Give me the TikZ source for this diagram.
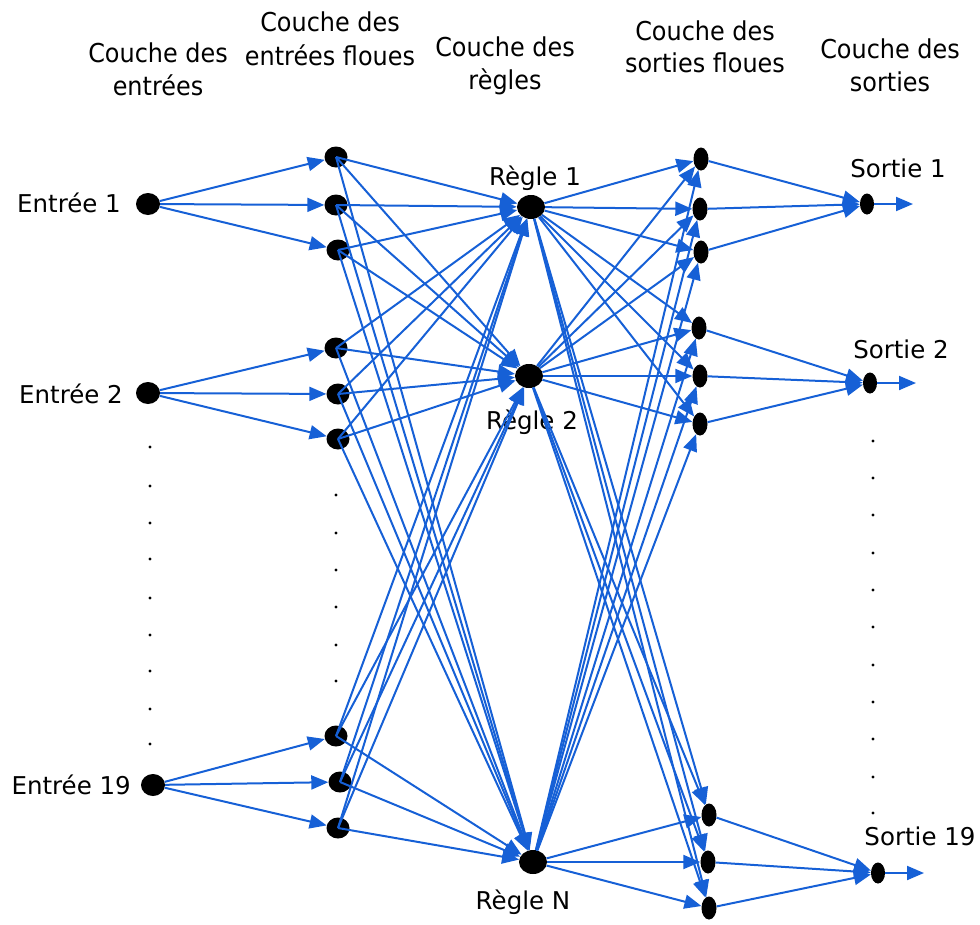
\documentclass[tikz,border=0pt]{standalone}
\usepackage{fontspec}
\setmainfont{DejaVu Sans}
\newfontfamily\headfont[FakeStretch=0.92]{DejaVu Sans}
\usetikzlibrary{arrows.meta,shapes.geometric}
\definecolor{lnblue}{RGB}{22,96,214}
\begin{document}
\begin{tikzpicture}[x=1pt,y=-1pt,
  inp/.style={ellipse,fill=black,inner sep=0pt,minimum width=24pt,minimum height=22pt},
  fin/.style={ellipse,fill=black,inner sep=0pt,minimum width=23pt,minimum height=21pt},
  rul/.style={ellipse,fill=black,inner sep=0pt,minimum width=28pt,minimum height=24pt},
  fon/.style={ellipse,fill=black,inner sep=0pt,minimum width=15pt,minimum height=23pt},
  outn/.style={ellipse,fill=black,inner sep=0pt,minimum width=14pt,minimum height=21pt},
  conn/.style={draw=lnblue,line width=2pt,-{Triangle[length=17pt,width=14pt]}},
  lab/.style={inner sep=0pt,font=\fontsize{24.5}{30}\selectfont},
  head/.style={inner sep=0pt,anchor=base,font=\headfont\fontsize{26}{33}\selectfont}]
\useasboundingbox (0,0) rectangle (980,924);

% headers
\node[head] (h1a) at (158,62) {Couche des};
\node[head] (h1b) at (158,95) {entrées};
\node[head] (h2a) at (330,31) {Couche des};
\node[head] (h2b) at (330,65) {entrées floues};
\node[head] (h3a) at (505,56) {Couche des};
\node[head] (h3b) at (505,89) {règles};
\node[head] (h4a) at (705,40) {Couche des};
\node[head] (h4b) at (705,72) {sorties floues};
\node[head] (h5a) at (890,58) {Couche des};
\node[head] (h5b) at (890,91) {sorties};

% input nodes
\node[inp] (in1) at (148,204) {};
\node[inp] (in2) at (148,393) {};
\node[inp] (in3) at (153,785) {};

% fuzzy input nodes
\node[fin] (fi1) at (336,157) {};
\node[fin] (fi2) at (336,205) {};
\node[fin] (fi3) at (338,250) {};
\node[fin] (fi4) at (336,348) {};
\node[fin] (fi5) at (338,394) {};
\node[fin] (fi6) at (338,439) {};
\node[fin] (fi7) at (336,736) {};
\node[fin] (fi8) at (340,782) {};
\node[fin] (fi9) at (338,828) {};

% rule nodes
\node[rul] (r1) at (531,207) {};
\node[rul] (r2) at (529,376) {};
\node[rul] (r3) at (533,862) {};

% fuzzy output nodes
\node[fon] (fo1) at (701,159) {};
\node[fon] (fo2) at (700,209) {};
\node[fon] (fo3) at (701,252) {};
\node[fon] (fo4) at (699,328) {};
\node[fon] (fo5) at (700,376) {};
\node[fon] (fo6) at (700,424) {};
\node[fon] (fo7) at (709,815) {};
\node[fon] (fo8) at (708,862) {};
\node[fon] (fo9) at (709,908) {};

% output nodes
\node[outn] (out1) at (867,204) {};
\node[outn] (out2) at (870,383) {};
\node[outn] (out3) at (878,873) {};
\coordinate (e1) at (913,204);
\coordinate (e2) at (916,383);
\coordinate (e3) at (924,873);

% labels
\node[lab,anchor=base east] (l1) at (121,212) {Entrée 1};
\node[lab,anchor=base east] (l2) at (123,403) {Entrée 2};
\node[lab,anchor=base east] (l3) at (131,794) {Entrée 19};
\node[lab,anchor=base] (lr1) at (535,185) {Règle 1};
\node[lab,anchor=base] (lr2) at (532,429) {Règle 2};
\node[lab,anchor=base] (lr3) at (523,909) {Règle N};
\node[lab,anchor=base] (ls1) at (898,177) {Sortie 1};
\node[lab,anchor=base] (ls2) at (901,358) {Sortie 2};
\node[lab,anchor=base] (ls3) at (920,845) {Sortie 19};

% ellipsis dots
\foreach \y in {447,486,523,559,598,635,671,709,744}
  \fill (150,\y) circle (1.6pt);
\foreach \y in {495,533,570,607,645,681}
  \fill (336,\y) circle (1.6pt);
\foreach \y in {441,478,515,553,590,627,665,702,739,777,813}
  \fill (873,\y) circle (1.6pt);

% input -> fuzzy inputs
\foreach \i/\a/\b/\c in {1/1/2/3,2/4/5/6,3/7/8/9}{
  \draw[conn] (in\i) -- (fi\a);
  \draw[conn] (in\i) -- (fi\b);
  \draw[conn] (in\i) -- (fi\c);
}
% fuzzy inputs -> rules
\foreach \i in {1,...,9}
  \foreach \r in {r1,r2,r3}
    \draw[conn] (fi\i.center) -- (\r);
% rules -> fuzzy outputs
\foreach \r in {r1,r2,r3}
  \foreach \i in {1,...,9}
    \draw[conn] (\r) -- (fo\i);
% fuzzy outputs -> outputs
\foreach \o/\a/\b/\c in {1/1/2/3,2/4/5/6,3/7/8/9}{
  \draw[conn] (fo\a) -- (out\o);
  \draw[conn] (fo\b) -- (out\o);
  \draw[conn] (fo\c) -- (out\o);
  \draw[conn] (out\o) -- (e\o);
}
\end{tikzpicture}
\end{document}
